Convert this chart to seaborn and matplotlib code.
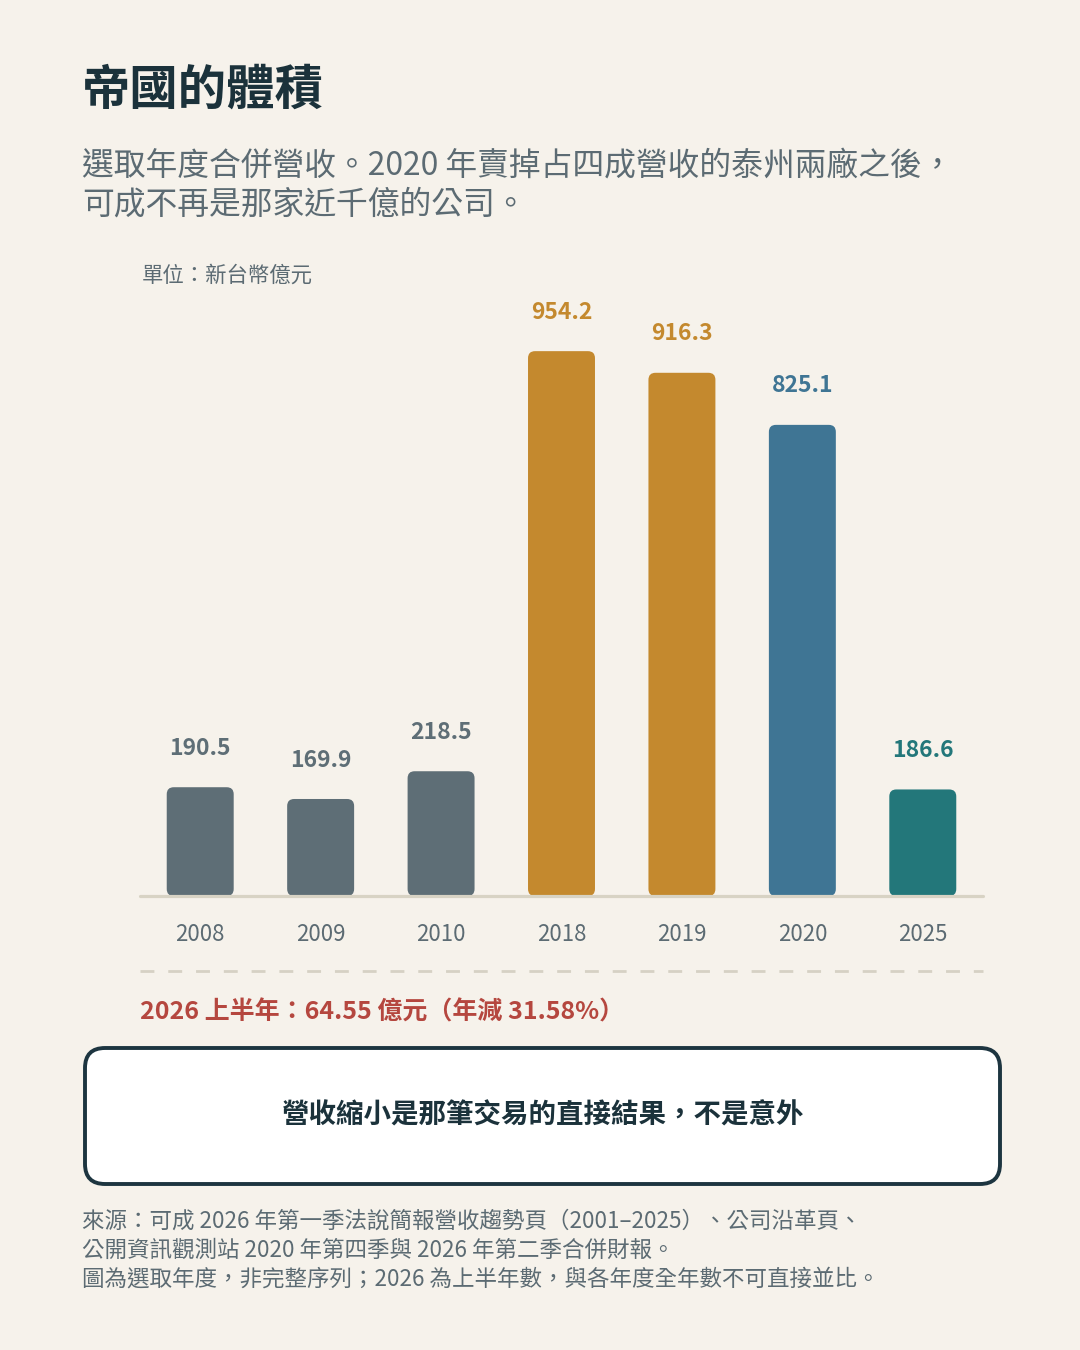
import matplotlib
matplotlib.use("Agg")
import matplotlib.pyplot as plt
import seaborn as sns
from matplotlib.patches import FancyBboxPatch

# ---- data ----
years = ["2008", "2009", "2010", "2018", "2019", "2020", "2025"]
revenue = [190.5, 169.9, 218.5, 954.2, 916.3, 825.1, 186.6]
bar_colors = ["#5e6e76", "#5e6e76", "#5e6e76", "#c4892e", "#c4892e", "#3f7594", "#23777a"]

title = "帝國的體積"
subtitle = ["選取年度合併營收。2020 年賣掉占四成營收的泰州兩廠之後，",
            "可成不再是那家近千億的公司。"]
unit_label = "單位：新台幣億元"
note_2026 = "2026 上半年：64.55 億元（年減 31.58%）"
box_text = "營收縮小是那筆交易的直接結果，不是意外"
footer = ["來源：可成 2026 年第一季法說簡報營收趨勢頁（2001–2025）、公司沿革頁、",
          "公開資訊觀測站 2020 年第四季與 2026 年第二季合併財報。",
          "圖為選取年度，非完整序列；2026 為上半年數，與各年度全年數不可直接並比。"]

BG = "#f6f2eb"
DARK = "#1b323b"
GREY = "#5c6b73"

sns.set_theme(style="white")
plt.rcParams["font.family"] = ["Noto Sans CJK TC", "DejaVu Sans"]

W, H = 1080, 1350
fig = plt.figure(figsize=(W / 100, H / 100), dpi=100, facecolor=BG)

# chart axes (pixel layout)
left, right, base, top = 140, 983, 896, 325
ax = fig.add_axes([left / W, (H - base) / H, (right - left) / W, (base - top) / H])
ax.set_facecolor("none")

sns.barplot(x=years, y=revenue, hue=years, palette=bar_colors, width=0.556,
            saturation=1, legend=False, ax=ax)
ax.set_xlim(-0.5, len(years) - 0.5)
ax.set_ylim(0, 1000)

# rounded bars
px_per_x = (right - left) / (ax.get_xlim()[1] - ax.get_xlim()[0])
px_per_y = (base - top) / (ax.get_ylim()[1] - ax.get_ylim()[0])
aspect = px_per_x / px_per_y
r = 7 / px_per_x
for p in list(ax.patches):
    x, y = p.get_x(), p.get_y()
    w, h = p.get_width(), p.get_height()
    fc = p.get_facecolor()
    p.remove()
    ax.add_patch(FancyBboxPatch((x, y), w, h,
                                boxstyle=f"round,pad=0,rounding_size={r}",
                                mutation_aspect=aspect, fc=fc, ec="none", zorder=2))

for i, (v, c) in enumerate(zip(revenue, bar_colors)):
    ax.annotate(f"{v:.1f}", (i, v), xytext=(0, 28), textcoords="offset points",
                ha="center", va="center", fontsize=16.5, fontweight="bold", color=c)

ax.axhline(0, color="#d8d3c4", lw=2.3, zorder=3, clip_on=False)
for s in ax.spines.values():
    s.set_visible(False)
ax.set_yticks([])
ax.set_ylabel("")
ax.set_xlabel("")
ax.tick_params(axis="x", length=0, pad=19.5, labelsize=16, labelcolor=GREY)

# overlay axes for text
ov = fig.add_axes([0, 0, 1, 1])
ov.set_xlim(0, W)
ov.set_ylim(H, 0)
ov.axis("off")
ov.patch.set_visible(False)

ov.text(82, 90.5, title, fontsize=34.8, fontweight="bold", color=DARK, va="center", ha="left")
ov.text(82, 165.5, subtitle[0], fontsize=22.9, color=GREY, va="center", ha="left")
ov.text(82, 204.5, subtitle[1], fontsize=22.9, color=GREY, va="center", ha="left")
ov.text(142, 276, unit_label, fontsize=15.4, color=GREY, va="center", ha="left")

ov.plot([140, 983], [971, 971], color="#d6d1c4", lw=2, linestyle=(0, (5, 5)))
ov.text(140, 1012.5, note_2026, fontsize=18, fontweight="bold", color="#b5473f",
        va="center", ha="left")

ov.add_patch(FancyBboxPatch((85, 1048), 915, 136,
                            boxstyle="round,pad=0,rounding_size=20",
                            fc="white", ec="#1d3540", lw=2.8))
ov.text(543, 1115.5, box_text, fontsize=19.8, fontweight="bold", color=DARK,
        va="center", ha="center")

for yy, line in zip([1221, 1250, 1279], footer):
    ov.text(82, yy, line, fontsize=16.2, color=GREY, va="center", ha="left")

fig.savefig("out.png", dpi=100, facecolor=BG)
